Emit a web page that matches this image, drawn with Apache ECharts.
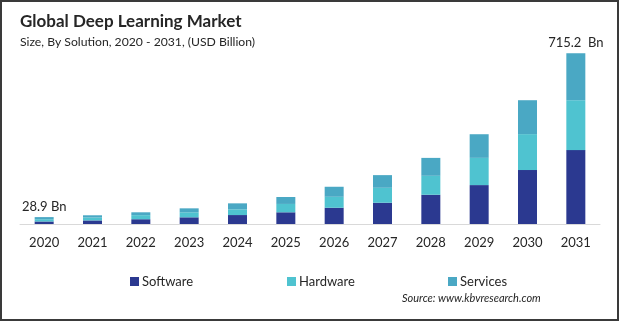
<!DOCTYPE html>
<html>
<head>
<meta charset="utf-8">
<script src="https://cdn.jsdelivr.net/npm/echarts@6/dist/echarts.min.js"></script>
<style>
html,body{margin:0;padding:0;background:#fff;}
#c{width:620px;height:322px;}
</style>
</head>
<body>
<div id="c"></div>
<script>
const years = ['2020','2021','2022','2023','2024','2025','2026','2027','2028','2029','2030','2031'];
const software = [10.5, 15, 20, 28, 37.5, 49, 68, 89, 122.5, 163, 226, 309.5];
const hardware = [9.5, 12, 17, 21, 24, 35, 46, 62.7, 79.4, 114, 150.5, 209];
const services = [8.9, 9.5, 12, 16.6, 25, 29, 42, 53, 75, 99, 142, 196.7];
const endLabels = {0: '28.9 Bn', 11: '715.2  Bn'};

const FONT = 'Lato';
const chart = echarts.init(document.getElementById('c'), null, {renderer: 'canvas'});

function seriesDef(name, data, color, withLabel) {
  return {
    name: name,
    type: 'bar',
    stack: 'total',
    barWidth: 19,
    itemStyle: {color: color},
    data: data.map((v, i) => {
      if (withLabel && endLabels[i] !== undefined) {
        return {value: v, label: {show: true, position: 'top', distance: 4,
          formatter: endLabels[i], color: '#262626', fontSize: 13, fontFamily: FONT}};
      }
      return v;
    }),
    emphasis: {disabled: true}
  };
}

chart.setOption({
  animation: false,
  grid: {left: 20, right: 20, top: 33, bottom: 98},
  xAxis: {
    type: 'category',
    data: years,
    axisLine: {lineStyle: {color: '#d9d9d9', width: 1}},
    axisTick: {show: false},
    axisLabel: {color: '#262626', fontSize: 13, fontFamily: FONT, margin: 12}
  },
  yAxis: {type: 'value', min: 0, max: 800, show: false, splitLine: {show: false}},
  legend: [
    {data: ['Software'], left: 125, top: 270},
    {data: ['Hardware'], left: 282, top: 270},
    {data: ['Services'], left: 443, top: 270}
  ].map(l => Object.assign(l, {
    itemWidth: 9, itemHeight: 9, itemGap: 0, icon: 'rect',
    textStyle: {color: '#262626', fontSize: 13, fontFamily: FONT, padding: [0, 0, 0, -2]},
    selectedMode: false
  })),
  series: [
    seriesDef('Software', software, '#2b3990', false),
    seriesDef('Hardware', hardware, '#4fc3d0', false),
    seriesDef('Services', services, '#4aa8c4', true)
  ],
  graphic: [
    {type: 'rect', shape: {x: 1, y: 1, width: 617, height: 319}, silent: true,
     style: {fill: 'none', stroke: '#3a3a3a', lineWidth: 2}},
    {type: 'text', left: 20, top: 13,
     style: {text: 'Global Deep Learning Market', fill: '#262626', fontSize: 17, fontWeight: 'bold', fontFamily: FONT}},
    {type: 'text', left: 20, top: 36,
     style: {text: 'Size, By Solution, 2020 - 2031, (USD Billion)', fill: '#262626', fontSize: 12.2, fontFamily: FONT}},
    {type: 'text', left: 402, top: 293,
     style: {text: 'Source: www.kbvresearch.com', fill: '#262626', fontSize: 11, fontStyle: 'italic', fontFamily: FONT}}
  ]
});
</script>
</body>
</html>
